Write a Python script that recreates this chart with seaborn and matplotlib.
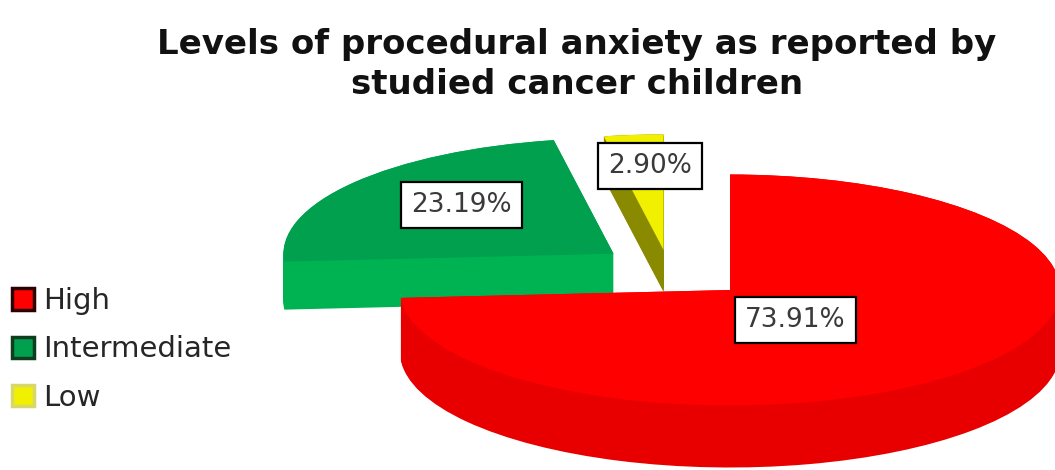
import numpy as np
import matplotlib
matplotlib.use("Agg")
import matplotlib.pyplot as plt
import seaborn as sns

# Valeurs (pourcentages des enfants)
categories = ["High", "Intermediate", "Low"]
percentages = [73.91, 23.19, 2.90]
title_lines = ["Levels of procedural anxiety as reported by", "studied cancer children"]

# Couleurs : dessus des parts, côtés (effet 3D), bord des carrés de légende
top_colors = ["#FF0000", "#00A04E", "#F0F000"]
side_colors = ["#E80000", "#00B352", "#8A8A00"]
legend_edges = ["#2B0000", "#0B3D1E", "#D8D86A"]

sns.set_theme(style="white")
plt.rcParams["font.family"] = ["DejaVu Sans"]

W, H = 1055, 470
SQ = 0.35          # écrasement vertical (vue en perspective)
R = 330            # rayon du camembert
cx, cy = 730, (H - 290) / SQ
explode = [0, 155, 115]
shift_px = [(0, 0), (6, 3), (-56, 0)]   # décalage en plus (perspective), en pixels
depths = [62, 48, 42]                   # épaisseur de chaque part, en pixels
n_layers = 60
label_dist = [0.3, 0.68, 0.74]
label_nudge = [(-7, -6), (25, 1), (9, -1)]  # petit ajustement des étiquettes, en pixels

fig = plt.figure(figsize=(W / 100, H / 100), dpi=100)
ax = fig.add_axes([0, 0, 1, 1])


def draw_layer(t, colors, top):
    wedges, _ = ax.pie(percentages, colors=colors, radius=R, center=(cx, cy),
                       startangle=90, counterclock=False, explode=explode,
                       wedgeprops=dict(linewidth=0))
    for i, w in enumerate(wedges):
        x0, y0 = w.center
        sx, sy = shift_px[i]
        w.set_center((x0 + sx, y0 + (sy - t * depths[i]) / SQ))
        base = 3 if i == 0 else 1
        w.set_zorder(base + (1 if top else 0))
    return wedges


# On dessine les côtés couche par couche, puis le dessus
for t in np.linspace(1, 0, n_layers):
    draw_layer(t, side_colors, top=False)
top_wedges = draw_layer(0, top_colors, top=True)

# Étiquettes de pourcentage dans des boîtes blanches
for i, w in enumerate(top_wedges):
    m = np.deg2rad((w.theta1 + w.theta2) / 2)
    x0, y0 = w.center
    nx, ny = label_nudge[i]
    xt = x0 + label_dist[i] * R * np.cos(m) + nx
    yt = y0 + label_dist[i] * R * np.sin(m) + ny / SQ
    ax.text(xt, yt, f"{percentages[i]:.2f}%", ha="center", va="center",
            fontsize=19, color="#3a3a3a", zorder=10,
            bbox=dict(boxstyle="square,pad=0.38", fc="white", ec="black", lw=1.6))

ax.set_aspect("auto")
ax.set_xlim(0, W)
ax.set_ylim(0, H / SQ)
ax.axis("off")

# Légende à gauche
leg = ax.legend(top_wedges, categories, loc="upper left",
                bbox_to_anchor=(12 / W, 1 - 287 / H), bbox_transform=fig.transFigure,
                frameon=False, fontsize=21, handlelength=0.75, handleheight=0.75,
                handletextpad=0.3, labelspacing=0.7, borderpad=0, borderaxespad=0)
for h, ec in zip(leg.legend_handles, legend_edges):
    h.set_edgecolor(ec)
    h.set_linewidth(2.5)
for txt in leg.get_texts():
    txt.set_color("#262626")

# Titre sur deux lignes
fig.text(577 / W, 1 - 28 / H, "\n".join(title_lines), ha="center", va="top",
         fontsize=24.5, fontweight="bold", color="#111111", linespacing=1.25)

fig.savefig("out.png", dpi=100)
